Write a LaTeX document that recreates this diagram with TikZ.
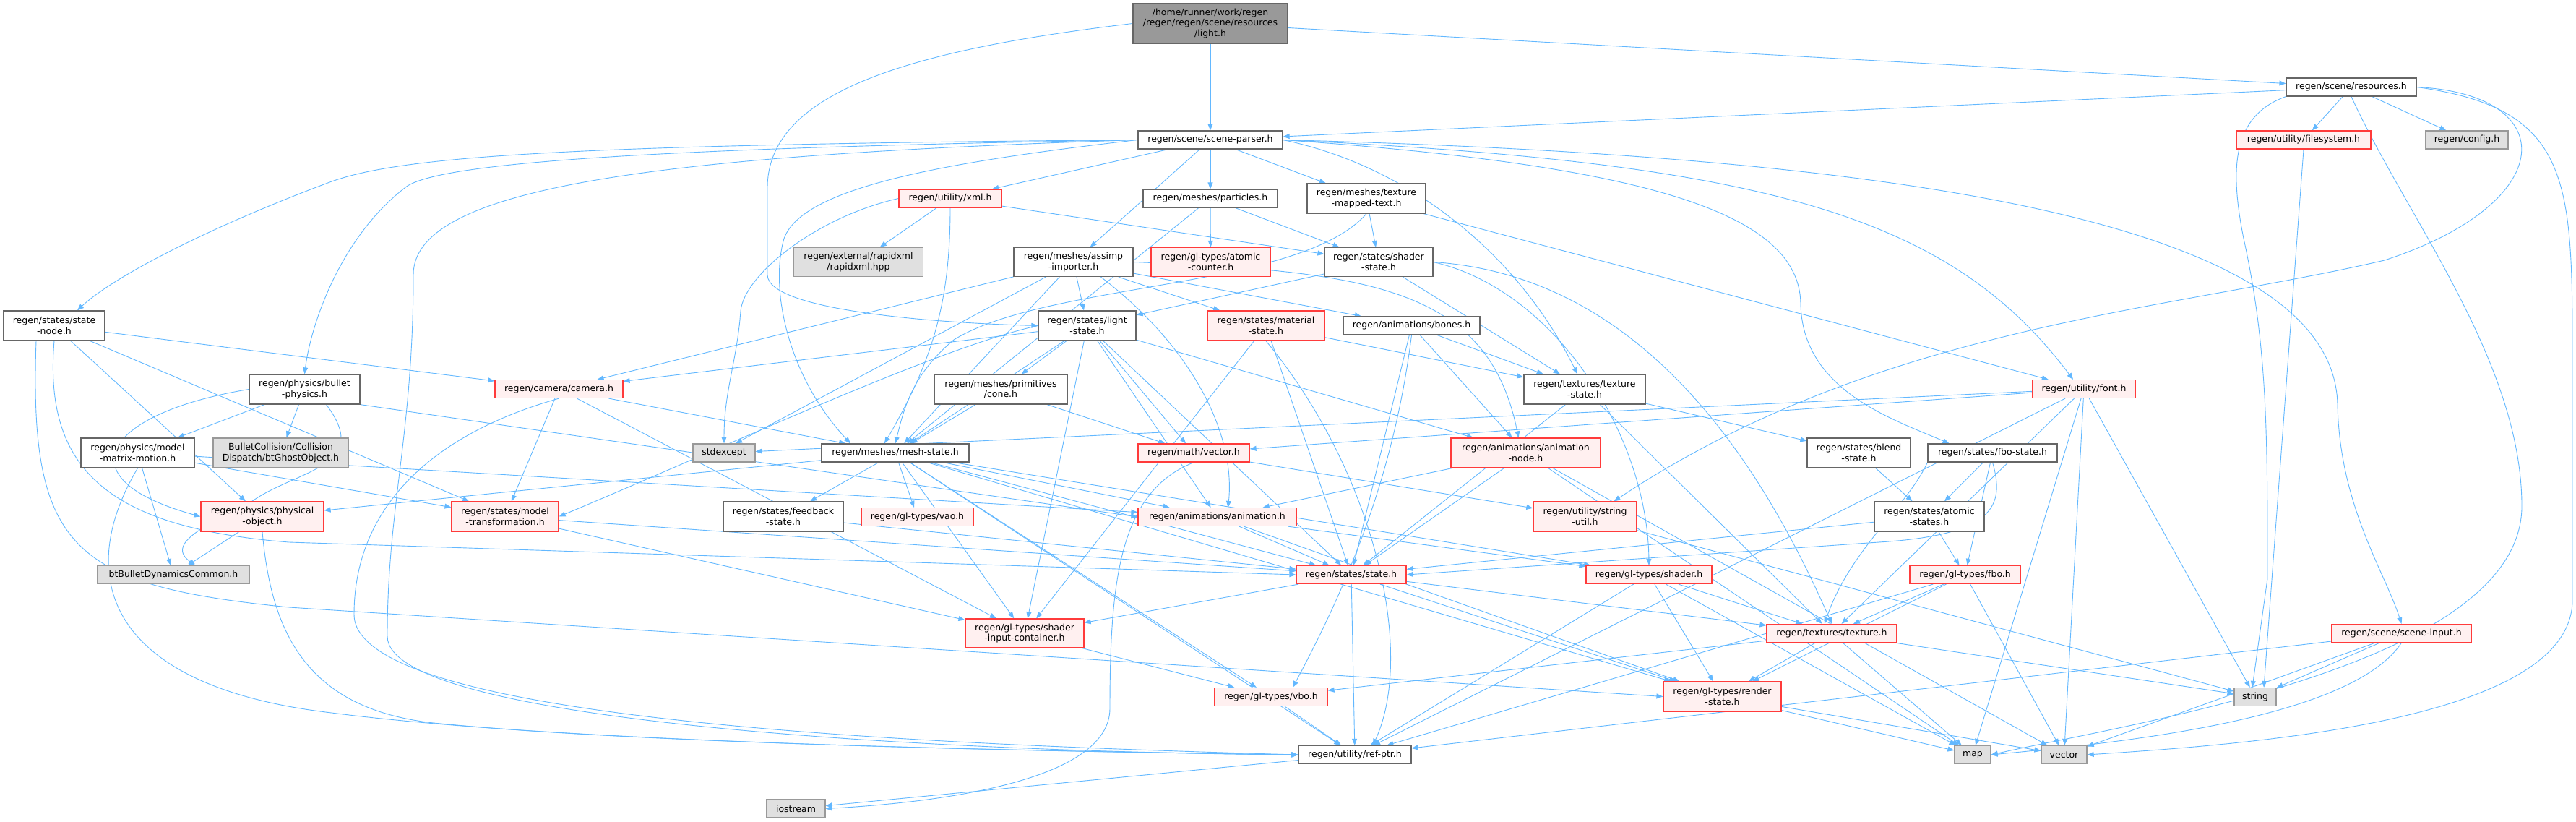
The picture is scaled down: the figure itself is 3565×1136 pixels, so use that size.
\documentclass[tikz,border=0pt]{standalone}
\usepackage{fontspec}
\setmainfont{DejaVu Sans}
\usetikzlibrary{arrows.meta, backgrounds}

\definecolor{edgeblue}{HTML}{63B8FF}
\definecolor{boxgray}{HTML}{666666}
\definecolor{redline}{HTML}{FF3B3B}
\definecolor{redfill}{HTML}{FFF0F0}
\definecolor{extfill}{HTML}{E0E0E0}
\definecolor{extline}{HTML}{999999}

\begin{document}
\begin{tikzpicture}[
    x=1pt, y=-1pt,
    >={Triangle[length=9pt, width=7pt]},
    hdr/.style={draw, rectangle, align=center, inner sep=1.5pt, line width=1.2pt,
        font=\fontsize{12.5}{14.5}\selectfont, minimum height=25pt},
    hdrplain/.style={hdr, draw=boxgray, fill=white},
    hdrred/.style={hdr, draw=redline, fill=redfill},
    hdrext/.style={hdr, draw=extline, fill=extfill},
    hdrroot/.style={hdr, draw=boxgray, fill=extline},
    dep/.style={->, draw=edgeblue, line width=0.9pt}
]
\useasboundingbox (0,0) rectangle (3565,1136);

% 1. 루트 파일과 첫 단계
\node[hdrroot, minimum width=214pt, minimum height=55pt] (light_h) at (1675,32.5) {/home/runner/work/regen\\/regen/regen/scene/resources\\/light.h};
\node[hdrplain, minimum width=180pt] (resources) at (3254,120.5) {regen/scene/resources.h};
\node[hdrplain, minimum width=200pt] (scene_parser) at (1675,193.5) {regen/scene/scene-parser.h};
\node[hdrred, minimum width=186pt] (filesystem) at (3188,193.5) {regen/utility/filesystem.h};
\node[hdrext, minimum width=114pt] (config) at (3414,193.5) {regen/config.h};

% 2. scene-parser 바로 아래 단계
\node[hdrred, minimum width=142pt] (xml) at (1315,274.5) {regen/utility/xml.h};
\node[hdrplain, minimum width=186pt] (particles) at (1675,274.5) {regen/meshes/particles.h};
\node[hdrplain, minimum width=164pt, minimum height=41pt] (text_mapped) at (1891,274.5) {regen/meshes/texture\\-mapped-text.h};
\node[hdrext, minimum width=179pt, minimum height=40pt] (rapidxml) at (1188,362.5) {regen/external/rapidxml\\/rapidxml.hpp};
\node[hdrplain, minimum width=165pt, minimum height=40pt] (assimp) at (1485.5,362.5) {regen/meshes/assimp\\-importer.h};
\node[hdrred, minimum width=165pt, minimum height=40pt] (atomic_counter) at (1675.5,362.5) {regen/gl-types/atomic\\-counter.h};
\node[hdrplain, minimum width=150pt, minimum height=40pt] (shader_state) at (1908,362.5) {regen/states/shader\\-state.h};

% 3. 상태 / 물리 / 카메라 블록
\node[hdrplain, minimum width=140pt, minimum height=41pt] (state_node) at (75,450.5) {regen/states/state\\-node.h};
\node[hdrplain, minimum width=135pt, minimum height=41pt] (light_state) at (1504.5,450.5) {regen/states/light\\-state.h};
\node[hdrred, minimum width=162pt, minimum height=41pt] (material_state) at (1752,450.5) {regen/states/material\\-state.h};
\node[hdrplain, minimum width=189pt] (bones) at (1953.5,450.5) {regen/animations/bones.h};
\node[hdrplain, minimum width=153pt, minimum height=41pt] (bullet) at (421.5,538.5) {regen/physics/bullet\\-physics.h};
\node[hdrred, minimum width=177pt] (camera) at (773.5,538) {regen/camera/camera.h};
\node[hdrplain, minimum width=184pt, minimum height=41pt] (cone) at (1385,538.5) {regen/meshes/primitives\\/cone.h};
\node[hdrplain, minimum width=168pt, minimum height=41pt] (texture_state) at (2193,538.5) {regen/textures/texture\\-state.h};
\node[hdrred, minimum width=142pt] (font) at (2884,538) {regen/utility/font.h};

% 4. 중간 단계 (mesh-state 줄)
\node[hdrplain, minimum width=157pt, minimum height=41pt] (matrix_motion) at (190.5,626.5) {regen/physics/model\\-matrix-motion.h};
\node[hdrext, minimum width=187pt, minimum height=41pt] (ghost_obj) at (388.5,626.5) {BulletCollision/Collision\\Dispatch/btGhostObject.h};
\node[hdrext, minimum width=86pt] (stdexcept) at (1002,626.5) {stdexcept};
\node[hdrplain, minimum width=204pt] (mesh_state) at (1239,626.5) {regen/meshes/mesh-state.h};
\node[hdrred, minimum width=154pt] (vec_h) at (1652,626.5) {regen/math/vector.h};
\node[hdrred, minimum width=207pt, minimum height=41pt] (anim_node) at (2111.5,626.5) {regen/animations/animation\\-node.h};
\node[hdrplain, minimum width=143pt, minimum height=41pt] (blend_state) at (2572.5,626.5) {regen/states/blend\\-state.h};
\node[hdrplain, minimum width=179pt] (fbo_state) at (2757.5,626.5) {regen/states/fbo-state.h};

% 5. 물리 객체 / 애니메이션 줄
\node[hdrred, minimum width=170pt, minimum height=41pt] (phys_obj) at (363,714.5) {regen/physics/physical\\-object.h};
\node[hdrred, minimum width=148pt, minimum height=41pt] (model_trans) at (699,714.5) {regen/states/model\\-transformation.h};
\node[hdrplain, minimum width=166pt, minimum height=41pt] (feedback) at (1084,714.5) {regen/states/feedback\\-state.h};
\node[hdrred, minimum width=155pt] (vao) at (1269.5,715) {regen/gl-types/vao.h};
\node[hdrred, minimum width=219pt] (animation) at (1684.5,715) {regen/animations/animation.h};
\node[hdrred, minimum width=143pt, minimum height=41pt] (string_util) at (2193.5,714.5) {regen/utility/string\\-util.h};
\node[hdrplain, minimum width=152pt, minimum height=41pt] (atomic_states) at (2670,714.5) {regen/states/atomic\\-states.h};

% 6. state.h 줄
\node[hdrext, minimum width=210pt] (bt_common) at (240,795) {btBulletDynamicsCommon.h};
\node[hdrred, minimum width=152pt] (state_h) at (1870,795) {regen/states/state.h};
\node[hdrred, minimum width=174pt] (shader_h) at (2282,795) {regen/gl-types/shader.h};
\node[hdrred, minimum width=153pt] (fbo_h) at (2719.5,795) {regen/gl-types/fbo.h};

% 7. 하단 (gl-types, 표준 헤더)
\node[hdrred, minimum width=164pt, minimum height=40pt] (input_container) at (1418,876) {regen/gl-types/shader\\-input-container.h};
\node[hdrred, minimum width=180pt] (texture_h) at (2535,876) {regen/textures/texture.h};
\node[hdrred, minimum width=193pt] (scene_input) at (3323.5,876) {regen/scene/scene-input.h};
\node[hdrred, minimum width=156pt] (vbo) at (1759,964) {regen/gl-types/vbo.h};
\node[hdrred, minimum width=163pt, minimum height=41pt] (render_state) at (2383.5,963.5) {regen/gl-types/render\\-state.h};
\node[hdrext, minimum width=58pt] (string_h) at (3121,964) {string};
\node[hdrplain, minimum width=156pt] (ref_ptr) at (1875,1044) {regen/utility/ref-ptr.h};
\node[hdrext, minimum width=50pt] (map_h) at (2730,1044) {map};
\node[hdrext, minimum width=63pt] (vector_h) at (2856.5,1044) {vector};
\node[hdrext, minimum width=81pt] (iostream_h) at (1101.5,1118.5) {iostream};

% 8. 의존 화살표 (상자 뒤에 그림)
\begin{scope}[on background layer]
    % light.h
    \draw[dep] (light_h) -- (scene_parser);
    \draw[dep] (light_h) -- (resources);
    \draw[dep] (light_h.west) .. controls (1250,70) and (1062,130) .. (1062,260) -- (1062,380) .. controls (1062,430) and (1300,447) .. (light_state.west);

    % resources.h
    \draw[dep] (resources) -- (scene_parser);
    \draw[dep] (resources) -- (filesystem);
    \draw[dep] (resources) -- (config);
    \draw[dep] (resources.south west) .. controls (3090,160) and (3085,230) .. (3105,330) .. controls (3138,480) and (3138,600) .. (3138,800) -- ([xshift=-4pt]string_h.north);
    \draw[dep] (resources.south) .. controls (3330,300) and (3490,500) .. (3490,700) .. controls (3490,920) and (2950,1000) .. (map_h.east);
    \draw[dep] (resources.east) .. controls (3560,150) and (3560,250) .. (3560,500) -- (3560,830) .. controls (3560,1000) and (3100,1030) .. (vector_h.east);
    \draw[dep] (resources.east) .. controls (3545,130) and (3545,280) .. (3300,360) .. controls (3000,430) and (2600,450) .. ([xshift=40pt]string_util.north);
    \draw[dep] (filesystem.south) -- ([xshift=12pt]string_h.north);

    % scene-parser.h
    \draw[dep] (scene_parser) -- (xml);
    \draw[dep] (scene_parser) -- (particles);
    \draw[dep] (scene_parser) -- (text_mapped);
    \draw[dep] (scene_parser) -- (assimp);
    \draw[dep] (scene_parser.west) .. controls (800,200) and (560,215) .. (459,251) .. controls (300,310) and (160,380) .. ([xshift=32pt]state_node.north);
    \draw[dep] (scene_parser.west) .. controls (900,205) and (600,225) .. (560,260) .. controls (470,330) and (430,450) .. (bullet.north);
    \draw[dep] (scene_parser.west) .. controls (900,215) and (572,260) .. (572,380) .. controls (572,600) and (536,700) .. (536,880) .. controls (536,1000) and (1300,1040) .. (ref_ptr.west);
    \draw[dep] (scene_parser.west) .. controls (1300,225) and (1110,260) .. (1085,330) .. controls (1065,400) and (1090,520) .. ([xshift=-62pt]mesh_state.north);
    \draw[dep] (scene_parser.east) .. controls (2450,225) and (2700,300) .. ([xshift=-15pt]font.north);
    \draw[dep] (scene_parser.east) .. controls (2600,215) and (3230,300) .. (3235,560) .. controls (3238,700) and (3300,790) .. (scene_input.north);
    \draw[dep] (scene_parser.east) .. controls (2300,230) and (2490,300) .. (2492,420) .. controls (2494,540) and (2620,580) .. ([xshift=-60pt]fbo_state.north);
    \draw[dep] (scene_parser.east) .. controls (1950,230) and (2100,350) .. ([xshift=-10pt]texture_state.north);

    % xml / particles / texture-mapped-text
    \draw[dep] (xml) -- (rapidxml);
    \draw[dep] (xml) -- (shader_state);
    \draw[dep] (xml.west) .. controls (1130,300) and (1030,380) .. (1025,430) .. controls (1020,500) and (1002,540) .. (stdexcept.north);
    \draw[dep] (xml.south) .. controls (1315,420) and (1290,500) .. ([xshift=-15pt]mesh_state.north);
    \draw[dep] (particles) -- (atomic_counter);
    \draw[dep] (particles) -- (shader_state);
    \draw[dep] (particles) -- (mesh_state);
    \draw[dep] (text_mapped) -- (shader_state);
    \draw[dep] (text_mapped) -- (font);
    \draw[dep] (text_mapped.south) .. controls (1800,400) and (1450,390) .. (1320,470) .. controls (1260,520) and (1250,570) .. (mesh_state.north);

    % assimp-importer.h
    \draw[dep] (assimp) -- (light_state);
    \draw[dep] (assimp) -- (material_state);
    \draw[dep] (assimp) -- (bones);
    \draw[dep] (assimp.east) .. controls (1900,375) and (2060,400) .. ([xshift=-10pt]anim_node.north);
    \draw[dep] (assimp) -- (mesh_state);
    \draw[dep] (assimp) -- (camera);
    \draw[dep] (assimp) -- ([xshift=16pt]stdexcept.north);
    \draw[dep] ([xshift=38pt]assimp.south) .. controls (1650,480) and (1710,600) .. ([xshift=15pt]animation.north);

    % shader-state.h
    \draw[dep] (shader_state) -- (light_state);
    \draw[dep] (shader_state) -- (texture_state);
    \draw[dep] (shader_state.east) .. controls (2150,400) and (2280,600) .. (shader_h.north);
    \draw[dep] (shader_state.east) .. controls (2250,380) and (2420,600) .. (texture_h.north);

    % state-node.h
    \draw[dep] (state_node) -- (camera);
    \draw[dep] (state_node) -- (model_trans);
    \draw[dep] (state_node) -- (phys_obj);
    \draw[dep] (state_node.south) .. controls (60,650) and (150,730) .. (400,750) -- (state_h.west);
    \draw[dep] ([xshift=-25pt]state_node.south) .. controls (40,760) and (100,810) .. (400,840) -- (render_state.west);

    % light-state.h
    \draw[dep] (light_state) -- (camera);
    \draw[dep] (light_state) -- (cone);
    \draw[dep] (light_state) -- (mesh_state);
    \draw[dep] (light_state) -- (vec_h);
    \draw[dep] (light_state) -- (animation);
    \draw[dep] (light_state) -- (input_container);
    \draw[dep] (light_state) -- (state_h);
    \draw[dep] (light_state) -- (anim_node);
    \draw[dep] (light_state.west) .. controls (1300,480) and (1000,620) .. (model_trans.east);

    % material-state.h / bones.h
    \draw[dep] (material_state) -- (texture_state);
    \draw[dep] (material_state) -- (input_container);
    \draw[dep] (material_state) -- (state_h);
    \draw[dep] (material_state.south) .. controls (1900,650) and (1960,900) .. ([xshift=25pt]ref_ptr.north);
    \draw[dep] (bones) -- (texture_state);
    \draw[dep] (bones) -- (anim_node);
    \draw[dep] (bones) -- (state_h);
    \draw[dep] (bones.south) .. controls (1930,650) and (1870,800) .. ([xshift=30pt]vbo.north);

    % bullet-physics.h
    \draw[dep] (bullet) -- (matrix_motion);
    \draw[dep] (bullet) -- (ghost_obj);
    \draw[dep] ([xshift=30pt]bullet.south) .. controls (520,650) and (400,650) .. (340,700) .. controls (250,740) and (240,760) .. ([xshift=30pt]bt_common.north);
    \draw[dep] (bullet.west) .. controls (150,570) and (80,660) .. (phys_obj.west);
    \draw[dep] (bullet.south east) -- (animation.west);

    % camera.h / cone.h / texture-state.h
    \draw[dep] (camera) -- (model_trans);
    \draw[dep] (camera) -- (mesh_state);
    \draw[dep] (camera) -- (input_container);
    \draw[dep] (camera.south) .. controls (600,600) and (490,700) .. (490,850) .. controls (490,1000) and (1300,1030) .. (ref_ptr.west);
    \draw[dep] (cone) -- (mesh_state);
    \draw[dep] (cone) -- (vec_h);
    \draw[dep] (texture_state) -- (texture_h);
    \draw[dep] (texture_state) -- (blend_state);
    \draw[dep] (texture_state) -- (state_h);

    % font.h
    \draw[dep] (font) -- (stdexcept);
    \draw[dep] (font) -- (vec_h);
    \draw[dep] (font) -- (texture_h);
    \draw[dep] (font) -- (string_h);
    \draw[dep] (font) -- (map_h);
    \draw[dep] (font) -- (vector_h);
    \draw[dep] (font) -- (ref_ptr);

    % model-matrix-motion.h / physical-object.h
    \draw[dep] (matrix_motion) -- (bt_common);
    \draw[dep] (matrix_motion) -- (model_trans);
    \draw[dep] (matrix_motion) -- (animation);
    \draw[dep] (matrix_motion.south) .. controls (100,800) and (150,950) .. (459,986) .. controls (800,1030) and (1500,1040) .. (ref_ptr.west);
    \draw[dep] (phys_obj) -- (bt_common);
    \draw[dep] (phys_obj.south) .. controls (375,870) and (420,980) .. (600,1000) .. controls (900,1030) and (1500,1040) .. (ref_ptr.west);

    % mesh-state.h
    \draw[dep] (mesh_state) -- (phys_obj);
    \draw[dep] (mesh_state) -- (feedback);
    \draw[dep] (mesh_state) -- (vao);
    \draw[dep] (mesh_state) -- (animation);
    \draw[dep] (mesh_state) -- (shader_h);
    \draw[dep] (mesh_state) -- (state_h);
    \draw[dep] (mesh_state) -- (input_container);
    \draw[dep] (mesh_state) -- (vbo);
    \draw[dep] (mesh_state) -- (render_state);
    \draw[dep] (mesh_state) -- (ref_ptr);

    % vector.h / animation-node.h
    \draw[dep] (vec_h) -- (string_util);
    \draw[dep] (vec_h.south) .. controls (1550,680) and (1536,800) .. (1536,980) .. controls (1536,1080) and (1300,1110) .. (iostream_h.east);
    \draw[dep] (anim_node) -- (animation);
    \draw[dep] (anim_node) -- (state_h);
    \draw[dep] (anim_node) -- (map_h);
    \draw[dep] (anim_node) -- (vector_h);

    % blend / fbo / atomic states
    \draw[dep] (blend_state) -- (atomic_states);
    \draw[dep] (fbo_state) -- (atomic_states);
    \draw[dep] (fbo_state) -- (fbo_h);
    \draw[dep] (fbo_state.south) .. controls (2775,700) and (2760,740) .. (2600,750) -- (state_h.east);
    \draw[dep] (fbo_state.south west) .. controls (2640,700) and (2560,760) .. ([xshift=-10pt]texture_h.north);
    \draw[dep] (atomic_states) -- (state_h);
    \draw[dep] (atomic_states) -- (fbo_h);

    % model-transformation / feedback / animation / string-util
    \draw[dep] (model_trans) -- (state_h);
    \draw[dep] (model_trans) -- (input_container);
    \draw[dep] (feedback) -- (state_h);
    \draw[dep] (animation) -- (state_h);
    \draw[dep] (animation) -- (shader_h);
    \draw[dep] (animation) -- (render_state);
    \draw[dep] (string_util) -- (string_h);

    % state.h / shader.h / fbo.h
    \draw[dep] (state_h) -- (input_container);
    \draw[dep] (state_h) -- (ref_ptr);
    \draw[dep] (state_h) -- (texture_h);
    \draw[dep] (state_h) -- (render_state);
    \draw[dep] (shader_h) -- (texture_h);
    \draw[dep] (shader_h) -- (render_state);
    \draw[dep] (shader_h) -- (ref_ptr);
    \draw[dep] (shader_h) -- (map_h);
    \draw[dep] (fbo_h) -- (texture_h);
    \draw[dep] (fbo_h) -- (render_state);
    \draw[dep] (fbo_h) -- (vector_h);
    \draw[dep] (fbo_h) -- (ref_ptr);

    % texture.h / scene-input.h / 하단
    \draw[dep] (input_container) -- (vbo);
    \draw[dep] (texture_h) -- (render_state);
    \draw[dep] (texture_h) -- (vbo);
    \draw[dep] (texture_h) -- (string_h);
    \draw[dep] (texture_h) -- (map_h);
    \draw[dep] (scene_input) -- (string_h);
    \draw[dep] (scene_input.south) .. controls (3250,1000) and (2900,1030) .. (map_h.east);
    \draw[dep] (scene_input) -- (vector_h);
    \draw[dep] (scene_input) -- (ref_ptr);
    \draw[dep] (vbo) -- (ref_ptr);
    \draw[dep] (render_state) -- (map_h);
    \draw[dep] (render_state) -- (vector_h);
    \draw[dep] (ref_ptr) -- (iostream_h);
\end{scope}

\end{tikzpicture}
\end{document}
